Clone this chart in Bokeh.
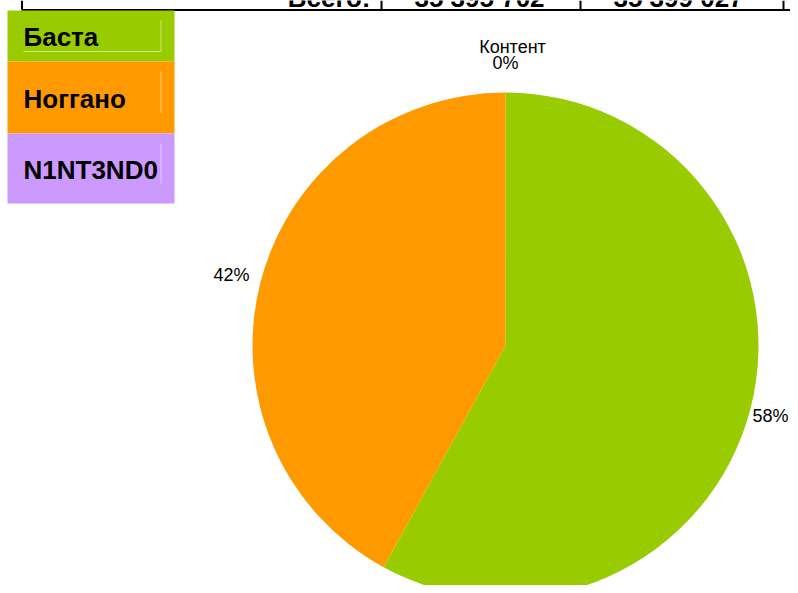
import math
from bokeh.plotting import figure
from bokeh.models import Range1d
from bokeh.core.properties import value
from bokeh.embed import file_html
from bokeh.resources import INLINE

# ---- data ----
categories = ["Баста", "Ноггано", "N1NT3ND0"]
shares = [58, 42, 0]
colors = ["#99cc00", "#ff9900", "#cc99ff"]
zero_label_title = "Контент"
total_label = "Всего:"
totals = ["35 395 702", "35 399 027"]

W, H = 790, 585

def Y(y_img):
    return H - y_img

p = figure(width=W, height=H, output_backend="svg", toolbar_location=None,
           x_range=Range1d(0, W), y_range=Range1d(0, H), min_border=0)
p.axis.visible = False
p.grid.visible = False
p.outline_line_color = None
p.background_fill_color = "white"
p.border_fill_color = "white"

FONT = value("Liberation Sans")

# ---- clipped table row at the top ----
p.text(x=[370], y=[Y(-2.5)], text=[total_label], text_align="right", text_baseline="middle",
       text_font=FONT, text_font_style="bold", text_font_size="26px", text_color="black")
p.text(x=[479, 678], y=[Y(-2.5), Y(-2.5)], text=totals, text_align="center", text_baseline="middle",
       text_font=FONT, text_font_style="bold", text_font_size="26px", text_color="black")
p.segment(x0=[21], y0=[Y(9.5)], x1=[W], y1=[Y(9.5)], line_color="black", line_width=2)
for xv in [21.5, 381, 580, 783]:
    p.segment(x0=[xv], y0=[Y(0)], x1=[xv], y1=[Y(9)], line_color="black", line_width=2)

# ---- pie ----
cx, cy, R = 505, Y(345), 253
total = sum(shares)
start = math.pi / 2
label_r = 283
for cat, s, c in zip(categories, shares, colors):
    frac = s / total
    end = start - frac * 2 * math.pi
    if s > 0:
        p.wedge(x=[cx], y=[cy], radius=R, start_angle=[end], end_angle=[start],
                direction="anticlock", fill_color=c, line_color=None)
    mid = (start + end) / 2
    lx = min(cx + label_r * math.cos(mid), W - 20)
    ly = cy + label_r * math.sin(mid)
    p.text(x=[lx], y=[ly], text=[f"{s}%"], text_align="center", text_baseline="middle",
           text_font=FONT, text_font_size="18px", text_color="black")
    if s == 0:
        p.text(x=[lx + 7], y=[ly + 16], text=[zero_label_title], text_align="center",
               text_baseline="middle", text_font=FONT, text_font_size="18px", text_color="black")
    start = end

# ---- legend boxes ----
box_tops = [10, 61, 133]
box_bots = [61, 133, 203]
text_mid = [36, 98.5, 169]
for cat, c, t, b, tm in zip(categories, colors, box_tops, box_bots, text_mid):
    p.quad(left=[7], right=[174], top=[Y(t)], bottom=[Y(b)], fill_color=c, line_color=None)
    p.segment(x0=[160.5], y0=[Y(t + 10)], x1=[160.5], y1=[Y(b - 20 if t > 10 else 51)],
              line_color="white", line_alpha=0.5, line_width=1)
    p.text(x=[23], y=[Y(tm)], text=[cat], text_align="left", text_baseline="middle",
           text_font=FONT, text_font_style="bold", text_font_size="26px", text_color="black")
p.segment(x0=[23], y0=[Y(51)], x1=[160.5], y1=[Y(51)], line_color="white", line_alpha=0.5, line_width=1)

open("out.html", "w").write(file_html(p, INLINE))
